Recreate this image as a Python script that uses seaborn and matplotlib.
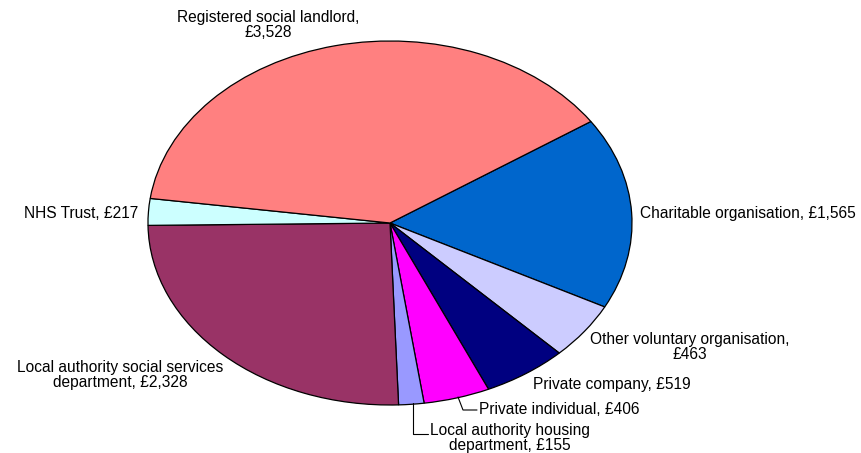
import matplotlib
matplotlib.use("Agg")
import matplotlib.pyplot as plt
import seaborn as sns

# Spending by type of provider (£ thousand), drawn clockwise
categories = [
    "Charitable organisation",
    "Other voluntary organisation",
    "Private company",
    "Private individual",
    "Local authority housing department",
    "Local authority social services department",
    "NHS Trust",
    "Registered social landlord",
]
values = [1565, 463, 519, 406, 155, 2328, 217, 3528]
label_texts = [
    "Charitable organisation, £1,565",
    "Other voluntary organisation,\n£463",
    "Private company, £519",
    "Private individual, £406",
    "Local authority housing\ndepartment, £155",
    "Local authority social services\ndepartment, £2,328",
    "NHS Trust, £217",
    "Registered social landlord,\n£3,528",
]
colors = ["#0066CC", "#CCCCFF", "#000080", "#FF00FF",
          "#9999FF", "#993366", "#CCFFFF", "#FF8080"]

sns.set_theme(style="white")
plt.rcParams["font.family"] = ["Liberation Sans", "DejaVu Sans"]

W, H = 862, 453
fig = plt.figure(figsize=(W / 100, H / 100), dpi=100)
ax = fig.add_axes([0, 0, 1, 1])

# ellipse geometry in pixels
cx, cy, rx, ry = 390, 223, 242, 182

ax.pie(values, colors=colors, startangle=33.9, counterclock=False,
       wedgeprops=dict(edgecolor="black", linewidth=0.9))
ax.set_aspect("auto")
ax.set_xlim(-cx / rx, (W - cx) / rx)
ax.set_ylim(-(H - cy) / ry, cy / ry)
ax.axis("off")


def px(x, y):
    return (x - cx) / rx, (cy - y) / ry


# label placement: (x, y, horizontal alignment)
label_pos = [
    (640, 213, "left"),
    (690, 347, "center"),
    (612, 384, "center"),
    (479, 410, "left"),
    (510, 438, "center"),
    (120, 375, "center"),
    (138, 213, "right"),
    (268, 25, "center"),
]
for txt, (x, y, ha) in zip(label_texts, label_pos):
    ax.text(*px(x, y), txt, ha=ha, va="center", fontsize=11.2,
            color="black", linespacing=0.92, multialignment="center")

# leader lines for the two narrow slices
leaders = [
    [(458, 397), (463, 410), (477, 410)],
    [(413, 403), (413, 434), (428, 434)],
]
for pts in leaders:
    xs, ys = zip(*[px(x, y) for x, y in pts])
    ax.plot(xs, ys, color="black", linewidth=0.8)

fig.savefig("out.png", dpi=100)
